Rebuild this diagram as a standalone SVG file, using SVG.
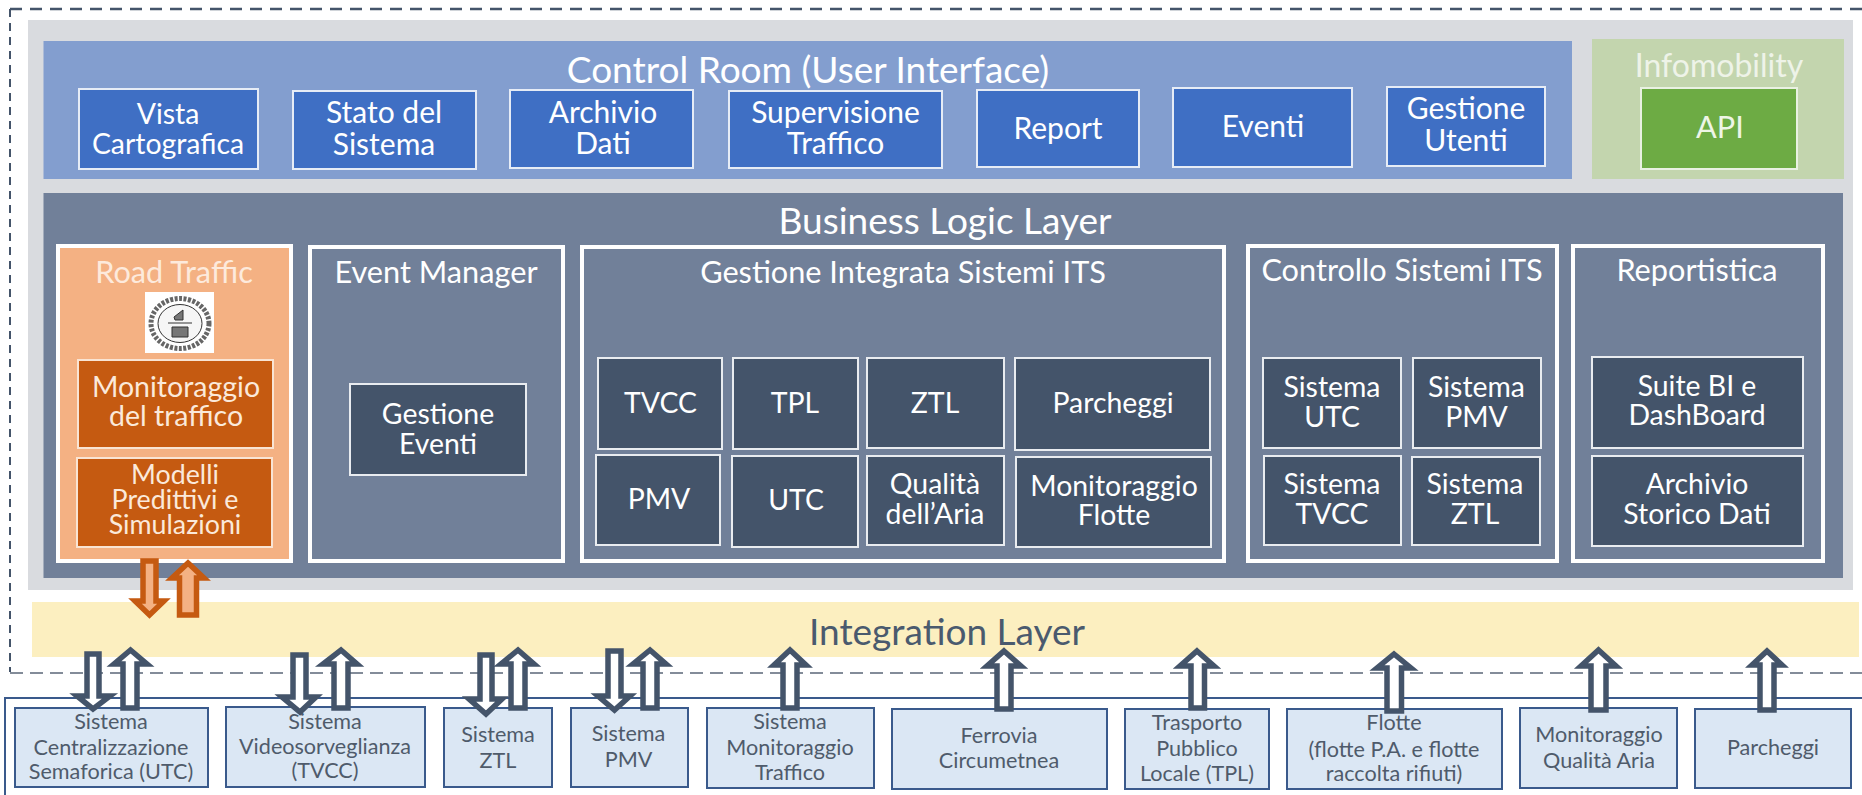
<svg xmlns="http://www.w3.org/2000/svg" width="1862" height="795" viewBox="0 0 1862 795">
<style>
text{font-family:Lato,"Open Sans","Liberation Sans",sans-serif;text-anchor:middle;fill:#fff}
.t32{font-size:37px}
.t29{font-size:30.700px}
.t26{font-size:30px}
.t24{font-size:28.400px}
.t25{font-size:26.800px;fill:#fbe9da}
.s{font-size:21.600px;fill:#4f5b6b}
.cb{fill:#3f6fc4;stroke:#e6ecf6;stroke-width:2}
.fr{fill:#718099;stroke:#fff;stroke-width:4}
.ib{fill:#44546a;stroke:#e9ecf0;stroke-width:2}
.ob{fill:#c55a11;stroke:#f9e4d3;stroke-width:2}
.sb{fill:#dbe7f4;stroke:#3a5a8c;stroke-width:2}
.ar{fill:#fff;stroke:#44546a;stroke-width:5.500;stroke-linejoin:miter}
.ao{fill:#f4b183;stroke:#c55a11;stroke-width:5.500;stroke-linejoin:miter}
</style>
<rect width="1862" height="795" fill="#fff"/>
<g id="frames">
<path d="M10 9H1862" fill="none" stroke="#44546a" stroke-width="2.500" stroke-dasharray="12 8"/>
<path d="M10 9V672" fill="none" stroke="#44546a" stroke-width="2" stroke-dasharray="8 6"/>
<path d="M10 673H1862" fill="none" stroke="#5b6778" stroke-width="1.300" stroke-dasharray="13 7"/>
<rect x="28" y="20" width="1825" height="570" fill="#d9dbdf"/>
<path d="M5 795V698H1862" fill="none" stroke="#3a5a8c" stroke-width="2"/>
</g>
<g id="control-room">
<rect x="43.500" y="41" width="1528.500" height="138" fill="#839ecf"/>
<text class="t32" x="808" y="83">Control Room (User Interface)</text>
</g>
<g id="vista"><rect class="cb" x="79" y="89" width="179" height="80"/><text x="168" y="124" style="font-size:28.400px">Vista</text><text x="168" y="154" style="font-size:28.400px">Cartografica</text></g>
<g id="stato"><rect class="cb" x="293" y="91" width="183" height="78"/><text class="t26" x="384" y="123">Stato del</text><text class="t26" x="384" y="155">Sistema</text></g>
<g id="archivio"><rect class="cb" x="510" y="90" width="183" height="78"/><text class="t26" x="603" y="123">Archivio</text><text class="t26" x="603" y="154">Dati</text></g>
<g id="supervisione"><rect class="cb" x="729" y="91" width="213" height="77"/><text class="t26" x="835.500" y="123">Supervisione</text><text class="t26" x="835.500" y="154">Traffico</text></g>
<g id="report"><rect class="cb" x="977" y="90" width="162" height="77"/><text class="t26" x="1058" y="139">Report</text></g>
<g id="eventi"><rect class="cb" x="1173" y="88" width="179" height="79"/><text class="t26" x="1263" y="137">Eventi</text></g>
<g id="gestione-utenti"><rect class="cb" x="1387" y="87" width="158" height="79"/><text class="t26" x="1466" y="119">Gestione</text><text class="t26" x="1466" y="151">Utenti</text></g>
<g id="infomobility">
<rect x="1592" y="39" width="252" height="140" fill="#c3d5ae"/>
<text x="1719" y="77" style="font-size:32px;fill:#eef3e8">Infomobility</text>
</g>
<g id="api"><rect x="1641" y="88" width="156" height="81" fill="#6dab44" stroke="#e9f1e2" stroke-width="2"/><text class="t29" x="1720" y="138" style="fill:#eef5e6">API</text></g>
<g id="business-logic">
<rect x="43.500" y="193" width="1799.500" height="385" fill="#718099"/>
<text class="t32" x="945" y="234">Business Logic Layer</text>
</g>
<g id="road-traffic">
<rect x="58" y="246" width="233" height="315" fill="#f4b183" stroke="#fff" stroke-width="4"/>
<text class="t29" x="174" y="283" style="fill:#fdeadc">Road Traffic</text>
</g>
<g id="logo">
<rect x="145" y="292" width="69" height="61" fill="#fff"/>
<ellipse cx="180" cy="323.500" rx="29" ry="25" fill="#fff" stroke="#666" stroke-width="5" stroke-dasharray="3 1.500"/>
<ellipse cx="180" cy="323.500" rx="22" ry="19" fill="#f6f6f6" stroke="#333" stroke-width="1"/>
<path d="M168 323H192M174 317L183 310V320H175ZM172 327H188V337H172Z" fill="#777" stroke="#333" stroke-width="1"/>
</g>
<g id="monitoraggio-traffico"><rect class="ob" x="78" y="360" width="195" height="88"/><text x="176" y="397" style="font-size:28.500px;fill:#fbe9da">Monitoraggio</text><text x="176" y="426" style="font-size:28.500px;fill:#fbe9da">del traffico</text></g>
<g id="modelli"><rect class="ob" x="77" y="458" width="195" height="89"/><text class="t25" x="175" y="484">Modelli</text><text class="t25" x="175" y="509">Predittivi e</text><text class="t25" x="175" y="534">Simulazioni</text></g>
<g id="event-manager"><rect class="fr" x="310" y="247" width="253" height="314"/><text class="t29" x="436" y="283">Event Manager</text></g>
<g id="gestione-eventi"><rect class="ib" x="350" y="384" width="176" height="91"/><text class="t24" x="438" y="424">Gestione</text><text class="t24" x="438" y="454">Eventi</text></g>
<g id="gestione-integrata"><rect class="fr" x="582" y="247" width="642" height="314"/><text class="t29" x="903" y="283">Gestione Integrata Sistemi ITS</text></g>
<g id="tvcc"><rect class="ib" x="598" y="358" width="124" height="91"/><text class="t24" x="660.500" y="413">TVCC</text></g>
<g id="tpl"><rect class="ib" x="733" y="358" width="125" height="91"/><text class="t24" x="795" y="413">TPL</text></g>
<g id="ztl"><rect class="ib" x="867" y="358" width="137" height="90"/><text class="t24" x="935" y="413">ZTL</text></g>
<g id="parcheggi"><rect class="ib" x="1015" y="358" width="195" height="92"/><text class="t24" x="1113" y="413">Parcheggi</text></g>
<g id="pmv"><rect class="ib" x="596" y="455" width="124" height="90"/><text class="t24" x="659" y="509">PMV</text></g>
<g id="utc"><rect class="ib" x="732" y="456" width="126" height="91"/><text class="t24" x="796" y="510">UTC</text></g>
<g id="qualita"><rect class="ib" x="867" y="456" width="137" height="89"/><text class="t24" x="935" y="494">Qualità</text><text class="t24" x="935" y="524">dell’Aria</text></g>
<g id="monitoraggio-flotte"><rect class="ib" x="1016" y="457" width="195" height="90"/><text class="t24" x="1114" y="496">Monitoraggio</text><text class="t24" x="1114" y="525">Flotte</text></g>
<g id="controllo-sistemi"><rect class="fr" x="1248" y="246" width="309" height="315"/><text class="t29" x="1402" y="281">Controllo Sistemi ITS</text></g>
<g id="sistema-utc"><rect class="ib" x="1263" y="358" width="138" height="90"/><text class="t24" x="1332" y="397">Sistema</text><text class="t24" x="1332" y="427">UTC</text></g>
<g id="sistema-pmv"><rect class="ib" x="1413" y="358" width="128" height="90"/><text class="t24" x="1476.500" y="397">Sistema</text><text class="t24" x="1476.500" y="427">PMV</text></g>
<g id="sistema-tvcc"><rect class="ib" x="1264" y="456" width="137" height="89"/><text class="t24" x="1332" y="494">Sistema</text><text class="t24" x="1332" y="524">TVCC</text></g>
<g id="sistema-ztl"><rect class="ib" x="1412" y="457" width="128" height="88"/><text class="t24" x="1475" y="494">Sistema</text><text class="t24" x="1475" y="524">ZTL</text></g>
<g id="reportistica"><rect class="fr" x="1573" y="246" width="250" height="315"/><text class="t29" x="1697" y="281">Reportistica</text></g>
<g id="suite-bi"><rect class="ib" x="1592" y="357" width="211" height="91"/><text class="t24" x="1697" y="396">Suite BI e</text><text class="t24" x="1697" y="425">DashBoard</text></g>
<g id="archivio-storico"><rect class="ib" x="1592" y="456" width="211" height="90"/><text class="t24" x="1697" y="494">Archivio</text><text class="t24" x="1697" y="524">Storico Dati</text></g>
<g id="integration-layer">
<rect x="32" y="602" width="1827" height="55" fill="#fcefc0"/>
<text class="t32" x="947" y="645" style="fill:#4a5a6e">Integration Layer</text>
</g>
<g id="s-utc"><rect class="sb" x="15" y="708" width="193" height="79"/><text class="s" x="111" y="729">Sistema</text><text class="s" x="111" y="755">Centralizzazione</text><text class="s" x="111" y="779">Semaforica (UTC)</text></g>
<g id="s-tvcc"><rect class="sb" x="226" y="707" width="199" height="80"/><text class="s" x="325" y="729">Sistema</text><text class="s" x="325" y="754">Videosorveglianza</text><text class="s" x="325" y="778">(TVCC)</text></g>
<g id="s-ztl"><rect class="sb" x="444" y="708" width="108" height="79"/><text class="s" x="498" y="742">Sistema</text><text class="s" x="498" y="768">ZTL</text></g>
<g id="s-pmv"><rect class="sb" x="571" y="708" width="117" height="79"/><text class="s" x="628.500" y="741">Sistema</text><text class="s" x="628.500" y="767">PMV</text></g>
<g id="s-monitoraggio"><rect class="sb" x="707" y="708" width="167" height="80"/><text class="s" x="790" y="729">Sistema</text><text class="s" x="790" y="755">Monitoraggio</text><text class="s" x="790" y="780">Traffico</text></g>
<g id="s-ferrovia"><rect class="sb" x="892" y="709" width="215" height="80"/><text class="s" x="999" y="743">Ferrovia</text><text class="s" x="999" y="768">Circumetnea</text></g>
<g id="s-tpl"><rect class="sb" x="1125" y="709" width="144" height="80"/><text class="s" x="1197" y="730">Trasporto</text><text class="s" x="1197" y="756">Pubblico</text><text class="s" x="1197" y="781">Locale (TPL)</text></g>
<g id="s-flotte"><rect class="sb" x="1287" y="709" width="215" height="80"/><text class="s" x="1394" y="730">Flotte</text><text class="s" x="1394" y="757">(flotte P.A. e flotte</text><text class="s" x="1394" y="781">raccolta rifiuti)</text></g>
<g id="s-qualita"><rect class="sb" x="1520" y="708" width="157" height="80"/><text class="s" x="1599" y="742">Monitoraggio</text><text class="s" x="1599" y="768">Qualità Aria</text></g>
<g id="s-parcheggi"><rect class="sb" x="1695" y="709" width="156" height="79"/><text class="s" x="1773" y="755">Parcheggi</text></g>
<g id="connectors">
<polygon class="ao" points="143,561 156,561 156,601 164,601 149.500,615 135,601 143,601"/>
<polygon class="ao" points="188,563 204,578 196.500,578 196.500,615 179.500,615 179.500,578 172,578"/>
<polygon class="ar" points="87,654 99,654 99,696 110,696 93,709 77,696 87,696"/>
<polygon class="ar" points="130.500,650 147,664 137,664 137,708 123,708 123,664 114,664"/>
<polygon class="ar" points="293,655 306,655 306,697 316,697 300,712 282,697 293,697"/>
<polygon class="ar" points="341,650 357,664 348,664 348,708 334,708 334,664 323,664"/>
<polygon class="ar" points="480,655 492,655 492,699 502,699 486,714 469,699 480,699"/>
<polygon class="ar" points="518,650 534,664 525,664 525,708 511,708 511,664 501,664"/>
<polygon class="ar" points="608,651 621,651 621,696 630,696 614.500,710 598,696 608,696"/>
<polygon class="ar" points="650,650 666,664 657,664 657,708 643,708 643,664 633,664"/>
<polygon class="ar" points="790,650 806,665 797,665 797,708 783,708 783,665 774,665"/>
<polygon class="ar" points="1004,651 1021,666 1011,666 1011,709 997,709 997,666 987,666"/>
<polygon class="ar" points="1197,651 1214,666 1204.500,666 1204.500,708 1191,708 1191,666 1180,666"/>
<polygon class="ar" points="1394,654 1411,668 1401.500,668 1401.500,711 1387,711 1387,668 1377,668"/>
<polygon class="ar" points="1598.500,650 1616,666 1606,666 1606,710 1591,710 1591,666 1581,666"/>
<polygon class="ar" points="1767,651 1782,665 1774,665 1774,710 1760,710 1760,665 1752,665"/>
</g>
</svg>
